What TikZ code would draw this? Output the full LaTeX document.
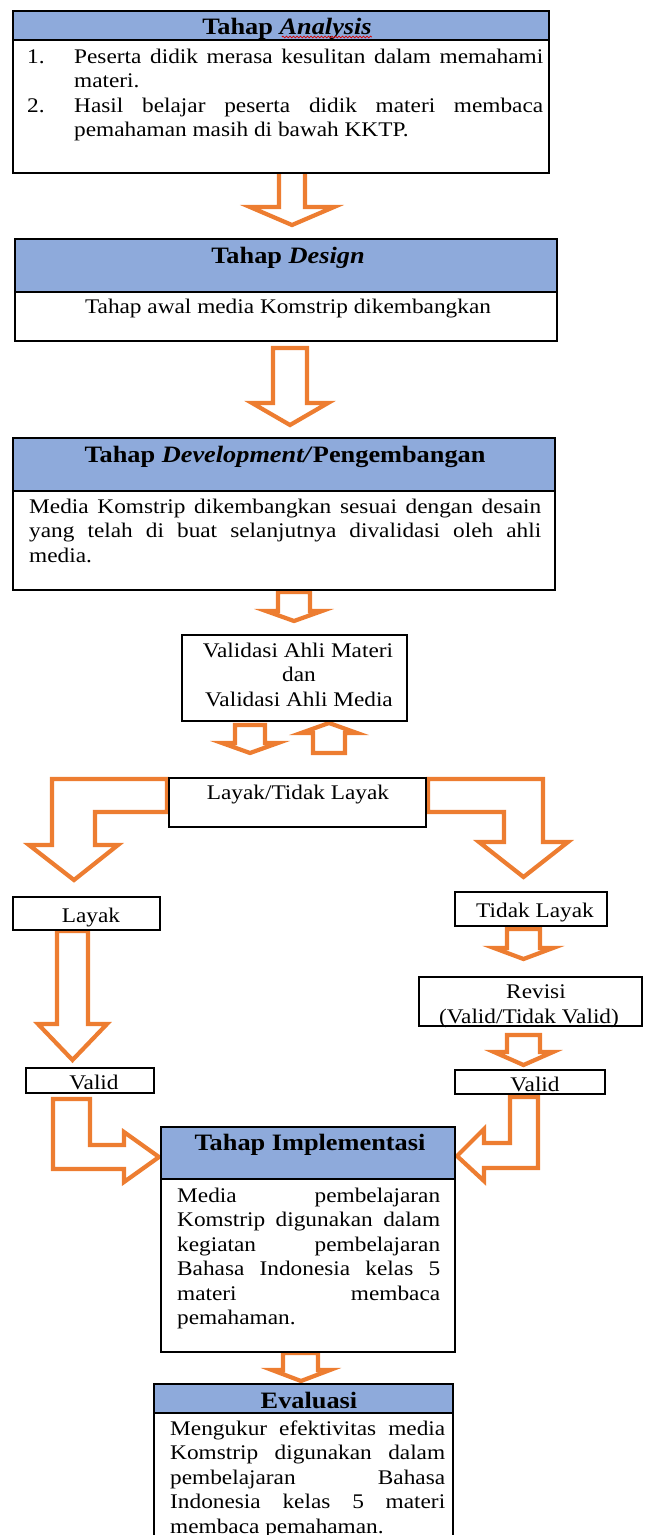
\documentclass[tikz,border=0pt]{standalone}
\usepackage{fontspec}
\setmainfont{Liberation Serif}[FakeStretch=1.12]
\usetikzlibrary{calc,decorations.pathmorphing}
\definecolor{headblue}{HTML}{8EAADB}
\definecolor{arrorange}{HTML}{ED7D31}
\newcommand\jline[1]{\makebox[\linewidth][s]{#1}}
\newcommand\bodyfont{\fontsize{20.8}{24.5}\selectfont}
\begin{document}
\begin{tikzpicture}[x=1pt,y=-1pt,
  box/.style={draw=black,line width=1.6pt,fill=white,inner sep=0pt,outer sep=0pt,anchor=north west},
  headbox/.style={box,fill=headblue},
  blockarrow/.style={draw=arrorange,line width=4.2pt,fill=white,line join=miter,miter limit=6},
  ttl/.style={anchor=base,inner sep=0pt,font=\fontsize{23.5}{27}\selectfont\bfseries},
  txt/.style={anchor=base,inner sep=0pt,font=\bodyfont},
  para/.style={anchor=base west,inner sep=0pt,font=\bodyfont},
]
\useasboundingbox (0,0) rectangle (646,1535);
\clip (0,0) rectangle (646,1535);

% ---------- block arrows (behind boxes) ----------
\draw[blockarrow] (279,170) -- (305,170) -- (305,207) -- (334,207) -- (292,225) -- (250,207) -- (279,207) -- cycle;
\draw[blockarrow] (273,348) -- (307,348) -- (307,403) -- (328,403) -- (290,425) -- (252,403) -- (273,403) -- cycle;
\draw[blockarrow] (278,592) -- (310,592) -- (310,611) -- (322,611) -- (294,621) -- (266,611) -- (278,611) -- cycle;
\draw[blockarrow] (235,725) -- (265,725) -- (265,743) -- (278,743) -- (250,753) -- (222,743) -- (235,743) -- cycle;
\draw[blockarrow] (313,753) -- (345,753) -- (345,733) -- (357,733) -- (329,723) -- (301,733) -- (313,733) -- cycle;
\draw[blockarrow] (167,779) -- (52,779) -- (52,845) -- (29,845) -- (74,880) -- (118,845) -- (95,845) -- (95,812) -- (167,812) -- cycle;
\draw[blockarrow] (428,779) -- (543,779) -- (543,842) -- (568,842) -- (523.5,877) -- (479,842) -- (504,842) -- (504,812) -- (428,812) -- cycle;
\draw[blockarrow] (57,931) -- (88,931) -- (88,1024) -- (107,1024) -- (72.5,1060) -- (38,1024) -- (57,1024) -- cycle;
\draw[blockarrow] (507,929) -- (540,929) -- (540,948) -- (553,948) -- (523.5,959) -- (494,948) -- (507,948) -- cycle;
\draw[blockarrow] (507,1035) -- (540,1035) -- (540,1052) -- (553,1052) -- (523.5,1065) -- (494,1052) -- (507,1052) -- cycle;
\draw[blockarrow] (53,1099) -- (90,1099) -- (90,1145) -- (124,1145) -- (124,1132) -- (159,1157) -- (124,1182) -- (124,1169) -- (53,1169) -- cycle;
\draw[blockarrow] (538,1097) -- (510,1097) -- (510,1143) -- (484,1143) -- (484,1129) -- (457,1156) -- (484,1181) -- (484,1168) -- (538,1168) -- cycle;
\draw[blockarrow] (283,1353) -- (318,1353) -- (318,1370) -- (330,1370) -- (301,1381) -- (272,1370) -- (283,1370) -- cycle;

% ---------- boxes ----------
\node[box,minimum width=536pt,minimum height=162pt] (ana) at (13,11) {};
\node[headbox,minimum width=536pt,minimum height=29pt] (anaH) at (13,11) {};
\node[box,minimum width=542pt,minimum height=102pt] (des) at (15,239) {};
\node[headbox,minimum width=542pt,minimum height=53pt] (desH) at (15,239) {};
\node[box,minimum width=542pt,minimum height=152pt] (dev) at (13,438) {};
\node[headbox,minimum width=542pt,minimum height=53pt] (devH) at (13,438) {};
\node[box,minimum width=225pt,minimum height=86pt] (val) at (182,635) {};
\node[box,minimum width=257pt,minimum height=49pt] (lay) at (169,778) {};
\node[box,minimum width=147pt,minimum height=33pt] (layak) at (13,897) {};
\node[box,minimum width=152pt,minimum height=34pt] (tidak) at (455,892) {};
\node[box,minimum width=223pt,minimum height=49pt] (rev) at (419,977) {};
\node[box,minimum width=128pt,minimum height=25pt] (valL) at (26,1068) {};
\node[box,minimum width=150pt,minimum height=24pt] (valR) at (455,1070) {};
\node[box,minimum width=294pt,minimum height=225pt] (imp) at (161,1127) {};
\node[headbox,minimum width=294pt,minimum height=52pt] (impH) at (161,1127) {};
\node[box,minimum width=299pt,minimum height=200pt] (eva) at (154,1384) {};
\node[headbox,minimum width=299pt,minimum height=29pt] (evaH) at (154,1384) {};

% ---------- titles ----------
\node[ttl] (anaT) at (287,34) {Tahap \textit{Analysis}};
\draw[red!85!black,line width=0.8pt,decorate,decoration={snake,amplitude=0.9pt,segment length=3.5pt}]
  ($(anaT.base east)+(-90,3)$) -- ($(anaT.base east)+(0,3)$);
\node[ttl] (desT) at (288,263) {Tahap \textit{Design}};
\node[ttl] (devT) at (285,462) {Tahap \textit{Development/}Pengembangan};
\node[ttl] (impT) at (310,1150) {Tahap Implementasi};
\node[ttl] (evaT) at (309,1408) {Evaluasi};

% ---------- body texts ----------
\node[para] (n1) at (27,63) {1.};
\node[para] (n2) at (27,112) {2.};
\node[para] (anaP1) at (74,63) {\parbox[t]{469pt}{\bodyfont\jline{Peserta didik merasa kesulitan dalam memahami}\\materi.}};
\node[para] (anaP2) at (74,112) {\parbox[t]{469pt}{\bodyfont\jline{Hasil belajar peserta didik materi membaca}\\pemahaman masih di bawah KKTP.}};
\node[txt] (desB) at (288,313) {Tahap awal media Komstrip dikembangkan};
\node[para] (devB) at (29,513) {\parbox[t]{512pt}{\bodyfont\jline{Media Komstrip dikembangkan sesuai dengan desain}\\\jline{yang telah di buat selanjutnya divalidasi oleh ahli}\\media.}};
\node[txt] (valT1) at (298,657) {Validasi Ahli Materi};
\node[txt] (valT2) at (299,681.5) {dan};
\node[txt] (valT3) at (299,706) {Validasi Ahli Media};
\node[txt] (layT) at (298,799) {Layak/Tidak Layak};
\node[txt] (layakT) at (91,922) {Layak};
\node[txt] (tidakT) at (535,917) {Tidak Layak};
\node[txt] (revT1) at (536,998) {Revisi};
\node[txt] (revT2) at (529,1023) {(Valid/Tidak Valid)};
\node[txt] (valLT) at (94,1089) {Valid};
\node[txt] (valRT) at (535,1091) {Valid};
\node[para] (impB) at (177,1202) {\parbox[t]{263pt}{\bodyfont\jline{Media pembelajaran}\\\jline{Komstrip digunakan dalam}\\\jline{kegiatan pembelajaran}\\\jline{Bahasa Indonesia kelas 5}\\\jline{materi membaca}\\pemahaman.}};
\node[para] (evaB) at (170,1435) {\parbox[t]{275pt}{\bodyfont\jline{Mengukur efektivitas media}\\\jline{Komstrip digunakan dalam}\\\jline{pembelajaran Bahasa}\\\jline{Indonesia kelas 5 materi}\\membaca pemahaman.}};
\end{tikzpicture}
\end{document}
